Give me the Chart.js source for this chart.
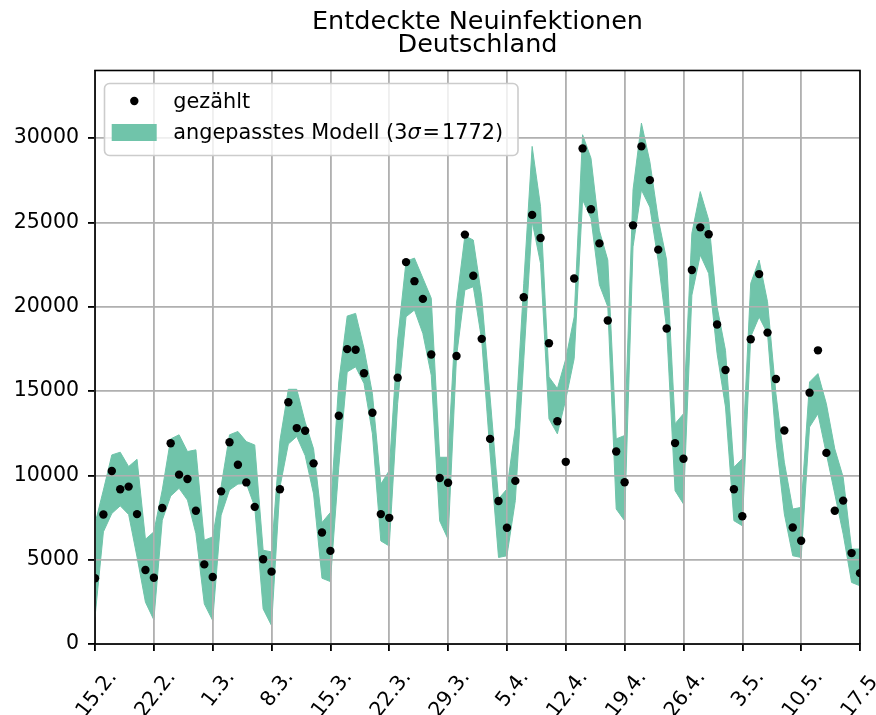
<!DOCTYPE html>
<html>
<head>
<meta charset="utf-8">
<title>Entdeckte Neuinfektionen Deutschland</title>
<script src="https://cdn.jsdelivr.net/npm/chart.js@4.4.1/dist/chart.umd.min.js"></script>
<style>
  html, body { margin: 0; padding: 0; background: #fff; }
  #wrap { width: 876px; height: 715px; position: relative; }
</style>
</head>
<body>
<div id="wrap"><canvas id="chart"></canvas></div>
<script>
// weekly tick labels, 15.2. - 17.5. (one tick every 7 days)
const tickLabels = ['15.2.', '22.2.', '1.3.', '8.3.', '15.3.', '22.3.', '29.3.',
  '5.4.', '12.4.', '19.4.', '26.4.', '3.5.', '10.5.', '17.5.'];
const yTicks = [0, 5000, 10000, 15000, 20000, 25000, 30000];

// daily counted cases (day 0 = 15.2.)
const counted = [
  3900, 7680, 10260, 9170, 9330, 7700, 4390,
  3930, 8060, 11900, 10040, 9780, 7900, 4720,
  3970, 9050, 11960, 10630, 9580, 8130, 5020,
  4290, 9170, 14330, 12800, 12640, 10710, 6610,
  5520, 13530, 17480, 17440, 16050, 13710, 7700,
  7480, 15790, 22640, 21510, 20460, 17160, 9840,
  9560, 17070, 24270, 21830, 18090, 12160, 8480,
  6890, 9670, 20560, 25440, 24070, 17830, 13210,
  10800, 21670, 29380, 25770, 23750, 19180, 11410,
  9590, 24820, 29500, 27500, 23380, 18700, 11910,
  10980, 22170, 24700, 24290, 18940, 16240, 9170,
  7570, 18070, 21930, 18460, 15710, 12660, 6910,
  6120, 14900, 17410, 11330, 7900, 8500, 5390,
  4200
];

// fitted model band (upper / lower edge)
const modelUpper = [
  7140, 9130, 11210, 11370, 10520, 10950, 6210,
  6650, 9130, 12160, 12400, 11410, 11510, 6150,
  6350, 9330, 12400, 12600, 12000, 11800, 5560,
  5460, 12060, 15100, 15100, 13150, 11570, 7200,
  7800, 15540, 19440, 19600, 17520, 14840, 9480,
  10280, 18020, 22680, 22880, 21690, 20500, 11070,
  11070, 20200, 24200, 23950, 20580, 14640, 8600,
  9190, 12860, 21380, 29500, 25930, 15830, 15140,
  16900, 19390, 30190, 28800, 24500, 22760, 12160,
  12360, 26920, 30880, 28600, 25200, 22760, 13060,
  13650, 24350, 26820, 25140, 19990, 17410, 10480,
  10980, 21380, 22760, 20290, 14840, 10780, 8000,
  8100, 15530, 16030, 14240, 11570, 9890, 5630,
  5630
];
const modelLower = [
  1590, 6650, 7740, 8190, 7680, 5160, 2480,
  1430, 7340, 8770, 9230, 8530, 6550, 2380,
  1390, 7640, 9130, 9480, 9520, 8130, 2080,
  1090, 9300, 11860, 12300, 11170, 8890, 3900,
  3700, 10480, 16130, 16430, 15440, 12460, 6110,
  5810, 14250, 19400, 19800, 18410, 15930, 7300,
  6210, 17020, 20990, 21180, 18010, 11270, 5130,
  5230, 8500, 16820, 25040, 22560, 13350, 12460,
  14500, 16920, 26330, 25240, 21300, 19990, 8000,
  7310, 23550, 26920, 25900, 22700, 18700, 9090,
  8300, 20680, 23060, 21970, 17220, 14050, 7310,
  7010, 18210, 19390, 18400, 12060, 7710, 5230,
  5130, 12860, 13650, 11270, 8900, 6520, 3650,
  3450
];

const sigma3 = 1772;

const FONT = "'DejaVu Sans', sans-serif";
const BAND = '#70c4aa';
const GRID = '#b0b0b0';

const days = counted.map((_, i) => i);
const toXY = arr => arr.map((v, i) => ({ x: days[i], y: v }));

// matplotlib draws the grid on top of the band, under the dots
const gridOverBand = {
  id: 'gridOverBand',
  afterDatasetDraw(chart, args) {
    if (args.index !== 1) return;
    chart.scales.x.drawGrid(chart.chartArea);
    chart.scales.y.drawGrid(chart.chartArea);
  }
};

// full box frame + legend inside the plot
const frameAndLegend = {
  id: 'frameAndLegend',
  afterDraw(chart) {
    const ctx = chart.ctx;
    const a = chart.chartArea;
    ctx.save();
    ctx.strokeStyle = '#000';
    ctx.lineWidth = 1.6;
    ctx.strokeRect(a.left, a.top, a.right - a.left, a.bottom - a.top);

    // legend box
    const bx = a.left + 9.5, by = a.top + 13, bw = 413.5, bh = 72, r = 5;
    ctx.beginPath();
    ctx.roundRect(bx, by, bw, bh, r);
    ctx.fillStyle = 'rgba(255,255,255,0.8)';
    ctx.fill();
    ctx.strokeStyle = '#cccccc';
    ctx.lineWidth = 1.6;
    ctx.stroke();

    // marker entry
    ctx.fillStyle = '#000';
    ctx.beginPath();
    ctx.arc(bx + 29.8, by + 17.5, 4.2, 0, Math.PI * 2);
    ctx.fill();

    // band entry
    ctx.fillStyle = BAND;
    ctx.fillRect(bx + 7.2, by + 40.5, 45, 17);

    ctx.fillStyle = '#000';
    ctx.textBaseline = 'alphabetic';
    ctx.textAlign = 'left';
    ctx.font = '20.8px ' + FONT;
    const tx = bx + 68.8;
    ctx.fillText('gezählt', tx, by + 24.3);

    // mathtext-like "(3σ=1772)", italic sigma
    const y2 = by + 56;
    const p1 = 'angepasstes Modell (3';
    ctx.fillText(p1, tx, y2);
    let x = tx + ctx.measureText(p1).width;
    ctx.font = 'italic 20.8px ' + FONT;
    ctx.fillText('σ', x, y2);
    x += ctx.measureText('σ').width + 2;
    ctx.font = '20.8px ' + FONT;
    ctx.fillText('=', x, y2);
    x += ctx.measureText('=').width + 2;
    ctx.fillText(sigma3 + ')', x, y2);
    ctx.restore();
  }
};

new Chart(document.getElementById('chart'), {
  type: 'line',
  data: {
    datasets: [
      {
        label: 'gezählt',
        data: toXY(counted),
        showLine: false,
        pointRadius: 4.2,
        pointBackgroundColor: '#000',
        pointBorderWidth: 0,
        order: 0
      },
      {
        label: 'Modell unten',
        data: toXY(modelLower),
        borderColor: BAND,
        borderWidth: 1,
        pointRadius: 0,
        fill: false,
        tension: 0,
        order: 1
      },
      {
        label: 'angepasstes Modell',
        data: toXY(modelUpper),
        borderColor: BAND,
        borderWidth: 1,
        backgroundColor: BAND,
        pointRadius: 0,
        fill: '-1',
        tension: 0,
        order: 2
      }
    ]
  },
  options: {
    responsive: true,
    maintainAspectRatio: false,
    animation: false,
    layout: { padding: { left: 0, right: 16, top: 0, bottom: 0 } },
    plugins: {
      legend: { display: false },
      tooltip: { enabled: false },
      title: {
        display: true,
        fullSize: false,
        text: ['Entdeckte Neuinfektionen', 'Deutschland'],
        color: '#000',
        font: { family: FONT, size: 25.5, weight: 'normal', lineHeight: 0.892 },
        padding: { top: 11, bottom: 14 }
      }
    },
    scales: {
      x: {
        type: 'linear',
        min: 0,
        max: 91,
        afterFit: s => { s.height = 71; s.paddingLeft = 0; s.paddingRight = 0; },
        ticks: {
          stepSize: 7,
          maxTicksLimit: 20,
          autoSkip: false,
          minRotation: 52,
          maxRotation: 52,
          labelOffset: 18,
          padding: 15,
          color: '#000',
          font: { family: FONT, size: 20.5 },
          callback: v => tickLabels[Math.round(v / 7)]
        },
        grid: { color: GRID, lineWidth: 1.6, tickLength: 7, tickColor: '#000', tickWidth: 1.6 },
        border: { color: '#000', width: 1.6 }
      },
      y: {
        min: 0,
        max: 34000,
        afterFit: s => { s.width = 95; },
        afterBuildTicks: s => { s.ticks = yTicks.map(v => ({ value: v })); },
        ticks: {
          padding: 9,
          color: '#000',
          font: { family: FONT, size: 20.5 },
          callback: v => String(v)
        },
        grid: { color: GRID, lineWidth: 1.6, tickLength: 7, tickColor: '#000', tickWidth: 1.6 },
        border: { color: '#000', width: 1.6 }
      }
    }
  },
  plugins: [gridOverBand, frameAndLegend]
});
</script>
</body>
</html>
